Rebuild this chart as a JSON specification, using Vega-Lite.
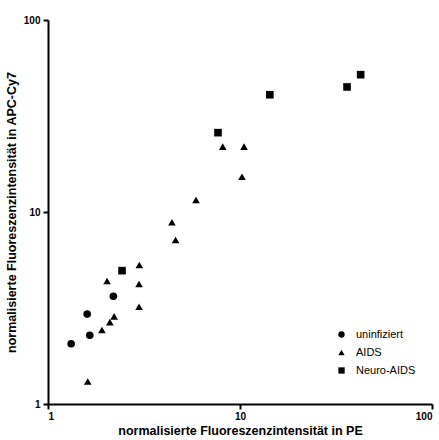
{
  "$schema": "https://vega.github.io/schema/vega-lite/v6.json",
  "width": 384,
  "height": 384,
  "autosize": "none",
  "padding": {"left": 48, "top": 20, "right": 7, "bottom": 36},
  "background": "white",
  "config": {
    "view": {"stroke": null},
    "font": "Liberation Sans"
  },
  "data": {
    "values": [
      {"group": "uninfiziert", "pe": 1.32, "apc": 2.06},
      {"group": "uninfiziert", "pe": 1.60, "apc": 2.94},
      {"group": "uninfiziert", "pe": 1.65, "apc": 2.28},
      {"group": "uninfiziert", "pe": 2.19, "apc": 3.64},
      {"group": "AIDS", "pe": 1.61, "apc": 1.31},
      {"group": "AIDS", "pe": 1.91, "apc": 2.43},
      {"group": "AIDS", "pe": 2.10, "apc": 2.67},
      {"group": "AIDS", "pe": 2.21, "apc": 2.86},
      {"group": "AIDS", "pe": 2.03, "apc": 4.37},
      {"group": "AIDS", "pe": 2.99, "apc": 5.30},
      {"group": "AIDS", "pe": 2.98, "apc": 4.22},
      {"group": "AIDS", "pe": 2.98, "apc": 3.21},
      {"group": "AIDS", "pe": 4.42, "apc": 8.84},
      {"group": "AIDS", "pe": 4.62, "apc": 7.15},
      {"group": "AIDS", "pe": 5.90, "apc": 11.55},
      {"group": "AIDS", "pe": 8.13, "apc": 21.9},
      {"group": "AIDS", "pe": 10.5, "apc": 21.9},
      {"group": "AIDS", "pe": 10.24, "apc": 15.27},
      {"group": "Neuro-AIDS", "pe": 2.43, "apc": 4.95},
      {"group": "Neuro-AIDS", "pe": 7.68, "apc": 25.9},
      {"group": "Neuro-AIDS", "pe": 14.3, "apc": 40.8},
      {"group": "Neuro-AIDS", "pe": 36.1, "apc": 44.8},
      {"group": "Neuro-AIDS", "pe": 42.5, "apc": 51.9}
    ]
  },
  "mark": {"type": "point", "filled": true, "color": "black", "opacity": 1, "size": 58},
  "encoding": {
    "x": {
      "field": "pe",
      "type": "quantitative",
      "scale": {"type": "log", "domain": [1, 100], "nice": false},
      "axis": {
        "title": "normalisierte Fluoreszenzintensität in PE",
        "values": [1, 10, 100],
        "format": "d",
        "grid": false,
        "domainColor": "black",
        "domainWidth": 2,
        "tickColor": "black",
        "tickWidth": 2,
        "tickSize": 5,
        "labelFont": "Liberation Sans",
        "labelFontWeight": "bold",
        "labelFontSize": 10,
        "labelColor": "black",
        "labelPadding": 2,
        "titleFont": "Liberation Sans",
        "titleFontWeight": "bold",
        "titleFontSize": 12.5,
        "titleColor": "black",
        "titlePadding": 3
      }
    },
    "y": {
      "field": "apc",
      "type": "quantitative",
      "scale": {"type": "log", "domain": [1, 100], "nice": false},
      "axis": {
        "title": "normalisierte Fluoreszenzintensität in APC-Cy7",
        "values": [1, 10, 100],
        "format": "d",
        "grid": false,
        "domainColor": "black",
        "domainWidth": 2,
        "tickColor": "black",
        "tickWidth": 2,
        "tickSize": 5,
        "labelFont": "Liberation Sans",
        "labelFontWeight": "bold",
        "labelFontSize": 10,
        "labelColor": "black",
        "labelPadding": 3,
        "titleFont": "Liberation Sans",
        "titleFontWeight": "bold",
        "titleFontSize": 12.5,
        "titleColor": "black",
        "titlePadding": 5
      }
    },
    "shape": {
      "field": "group",
      "type": "nominal",
      "scale": {
        "domain": ["uninfiziert", "AIDS", "Neuro-AIDS"],
        "range": ["circle", "triangle-up", "square"]
      },
      "legend": {
        "title": null,
        "orient": "none",
        "legendX": 288,
        "legendY": 309,
        "symbolFillColor": "black",
        "symbolStrokeColor": "black",
        "symbolSize": 40,
        "symbolOpacity": 1,
        "labelFont": "Liberation Sans",
        "labelFontSize": 11,
        "labelColor": "black",
        "labelOffset": 9,
        "rowPadding": 5
      }
    }
  }
}
